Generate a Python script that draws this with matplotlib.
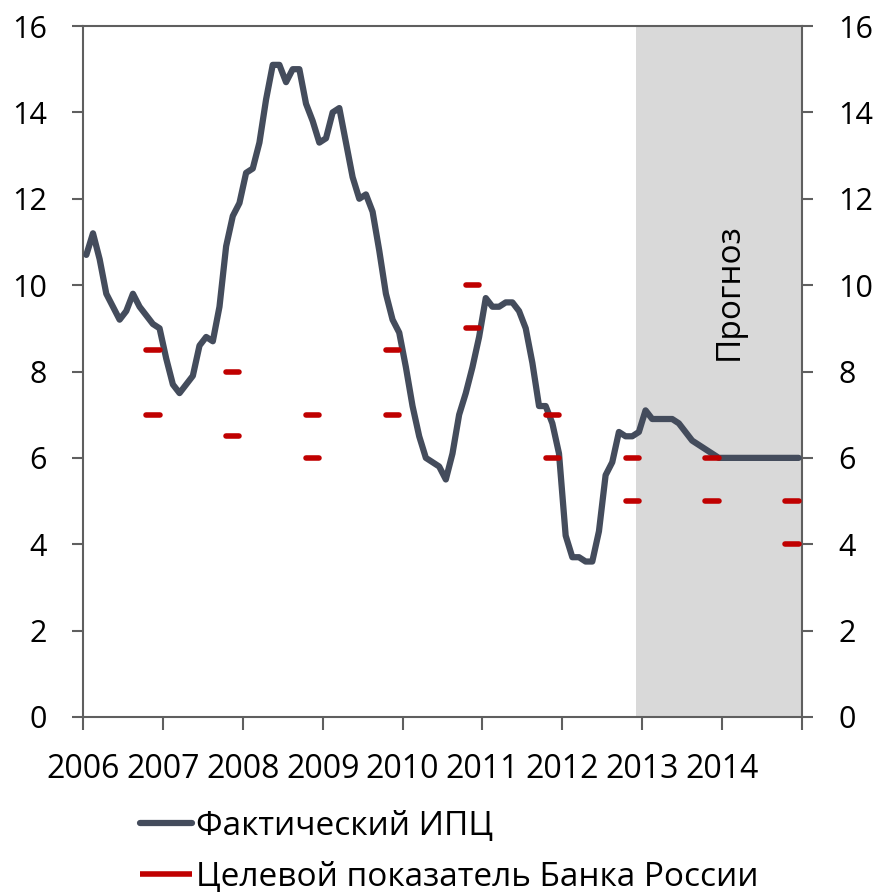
import numpy as np
import matplotlib
matplotlib.use('Agg')
import matplotlib.pyplot as plt

plt.rcParams['font.family'] = ['Open Sans', 'DejaVu Sans']

# ---- data ----
years = ['2006', '2007', '2008', '2009', '2010', '2011', '2012', '2013', '2014']

# Monthly CPI (y/y, %), Jan 2006 - Dec 2014 (2013-2014 forecast)
cpi_2006 = [10.7, 11.2, 10.6, 9.8, 9.5, 9.2, 9.4, 9.8, 9.5, 9.3, 9.1, 9.0]
cpi_2007 = [8.3, 7.7, 7.5, 7.7, 7.9, 8.6, 8.8, 8.7, 9.5, 10.9, 11.6, 11.9]
cpi_2008 = [12.6, 12.7, 13.3, 14.3, 15.1, 15.1, 14.7, 15.0, 15.0, 14.2, 13.8, 13.3]
cpi_2009 = [13.4, 14.0, 14.1, 13.3, 12.5, 12.0, 12.1, 11.7, 10.8, 9.8, 9.2, 8.9]
cpi_2010 = [8.1, 7.2, 6.5, 6.0, 5.9, 5.8, 5.5, 6.1, 7.0, 7.5, 8.1, 8.8]
cpi_2011 = [9.7, 9.5, 9.5, 9.6, 9.6, 9.4, 9.0, 8.2, 7.2, 7.2, 6.8, 6.1]
cpi_2012 = [4.2, 3.7, 3.7, 3.6, 3.6, 4.3, 5.6, 5.9, 6.6, 6.5, 6.5, 6.6]
cpi_2013 = [7.1, 6.9, 6.9, 6.9, 6.9, 6.8, 6.6, 6.4, 6.3, 6.2, 6.1, 6.0]
cpi_2014 = [6.0, 6.0, 6.0, 6.0, 6.0, 6.0, 6.0, 6.0, 6.0, 6.0, 6.0, 6.0]
cpi_fact = (cpi_2006 + cpi_2007 + cpi_2008 + cpi_2009 + cpi_2010 +
            cpi_2011 + cpi_2012 + cpi_2013 + cpi_2014)

# Bank of Russia target range at year end
target_upper = [8.5, 8.0, 7.0, 8.5, 10.0, 7.0, 6.0, 6.0, 5.0]
target_lower = [7.0, 6.5, 6.0, 7.0, 9.0, 6.0, 5.0, 5.0, 4.0]

forecast_start = 83  # month index (Dec 2012)
label_cpi = 'Фактический ИПЦ'
label_target = 'Целевой показатель Банка России'
label_forecast = 'Прогноз'

# ---- plot ----
W, H = 877, 893
fig = plt.figure(figsize=(W / 100, H / 100), dpi=100)
ax = fig.add_axes([83 / W, (H - 717) / H, 719 / W, 691 / H])

n_months = len(cpi_fact)
x = np.arange(n_months) + 0.5

ax.axvspan(forecast_start, n_months, color='#d9d9d9', lw=0, zorder=0)

cpi_line, = ax.plot(x, cpi_fact, color='#444c5c', lw=4.5,
                    solid_capstyle='round', solid_joinstyle='round', zorder=3)

yi = np.arange(len(years))
xs = yi * 12 + 9.5
xe = yi * 12 + 11.5
tg = ax.hlines(target_upper, xs, xe, color='#c00000', lw=4, capstyle='round', zorder=4)
ax.hlines(target_lower, xs, xe, color='#c00000', lw=4, capstyle='round', zorder=4)

ax.text(97, 9.85, label_forecast, rotation=90, ha='center', va='center',
        fontsize=24, color='black', zorder=5)

ax.set_xlim(0, n_months)
ax.set_ylim(0, 16)
ax.set_xticks(np.arange(0, n_months + 1, 12))
ax.set_xticklabels(years + [''])
ax.set_yticks(np.arange(0, 17, 2))

spine_c = '#5f5f5f'
for s in ax.spines.values():
    s.set_color(spine_c)
    s.set_linewidth(1.5)

ax.tick_params(axis='y', direction='out', length=8, width=1.5, color=spine_c,
               left=True, right=True, labelleft=True, labelright=True,
               pad=18, labelsize=22)
ax.tick_params(axis='x', direction='out', length=9, width=1.5, color=spine_c,
               pad=17, labelsize=23)

ax.legend(handles=[cpi_line, tg], labels=[label_cpi, label_target],
          loc='upper left', bbox_to_anchor=(140 / W, (H - 810) / H),
          bbox_transform=fig.transFigure, frameon=False,
          handlelength=1.55, handletextpad=0.12, labelspacing=0.54,
          fontsize=24, borderpad=0, borderaxespad=0)

fig.savefig('out.png', dpi=100)
